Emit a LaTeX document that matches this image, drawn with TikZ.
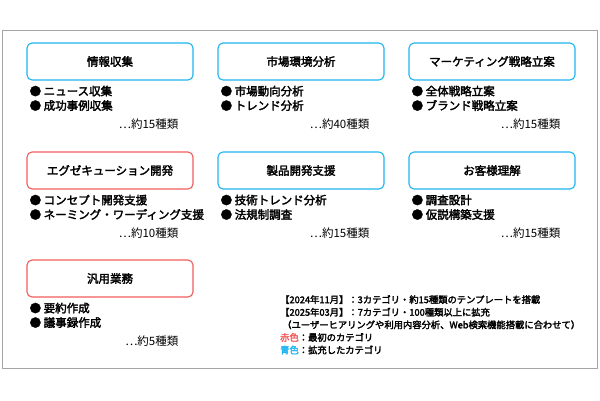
\documentclass[tikz,border=0pt]{standalone}
\usepackage{fontspec}
\setmainfont{Noto Sans CJK JP}[BoldFont={Noto Sans CJK JP},BoldFeatures={FakeBold=2.5}]
\definecolor{bb}{HTML}{1FB4F0}
\definecolor{rr}{HTML}{F25A5A}
\begin{document}
\begin{tikzpicture}[x=1pt,y=-1pt,
 cat/.style={draw=#1,line width=1.1pt,rounded corners=5pt,minimum width=166pt,minimum height=37pt,font=\bfseries\fontsize{11.5}{12}\selectfont},
 lst/.style={anchor=north west,align=left,font=\bfseries\fontsize{11.5}{14.5}\selectfont,inner sep=0pt},
 cnt/.style={anchor=east,font=\fontsize{11.5}{12}\selectfont,inner sep=0pt}]
\useasboundingbox (0,0) rectangle (600,400);
\node[draw=gray!70,line width=1pt,minimum width=595pt,minimum height=338pt] (frame) at (299.5,199) {};
\def\cell#1#2#3#4#5#6#7{%
 \node[cat=#4] (c#1) at (#2,#3) {#5};
 \node[lst] (l#1) at ([xshift=3pt,yshift=-5pt]c#1.south west) {#6};
 \node[cnt] (n#1) at ([xshift=-15pt,yshift=-44pt]c#1.south east) {…約#7種類};}
\cell{a}{110}{61.5}{bb}{情報収集}{●\ ニュース収集\\●\ 成功事例収集}{15}
\cell{b}{301}{61.5}{bb}{市場環境分析}{●\ 市場動向分析\\●\ トレンド分析}{40}
\cell{c}{492}{61.5}{bb}{マーケティング戦略立案}{●\ 全体戦略立案\\●\ ブランド戦略立案}{15}
\cell{d}{110}{170.5}{rr}{エグゼキューション開発}{●\ コンセプト開発支援\\●\ ネーミング・ワーディング支援}{10}
\cell{e}{301}{170.5}{bb}{製品開発支援}{●\ 技術トレンド分析\\●\ 法規制調査}{15}
\cell{f}{492}{170.5}{bb}{お客様理解}{●\ 調査設計\\●\ 仮説構築支援}{15}
\cell{g}{110}{278.5}{rr}{汎用業務}{●\ 要約作成\\●\ 議事録作成}{5}
\node[anchor=north west,align=left,inner sep=0pt,font=\bfseries\fontsize{9.3}{12.6}\selectfont] (note) at (280,295)
{【2024年11月】：3カテゴリ・約15種類のテンプレートを搭載\\
【2025年03月】：7カテゴリ・100種類以上に拡充\\
\ （ユーザーヒアリングや利用内容分析、Web検索機能搭載に合わせて）\\
\textcolor{rr}{赤色}：最初のカテゴリ\\
\textcolor{bb}{青色}：拡充したカテゴリ};
\end{tikzpicture}
\end{document}
